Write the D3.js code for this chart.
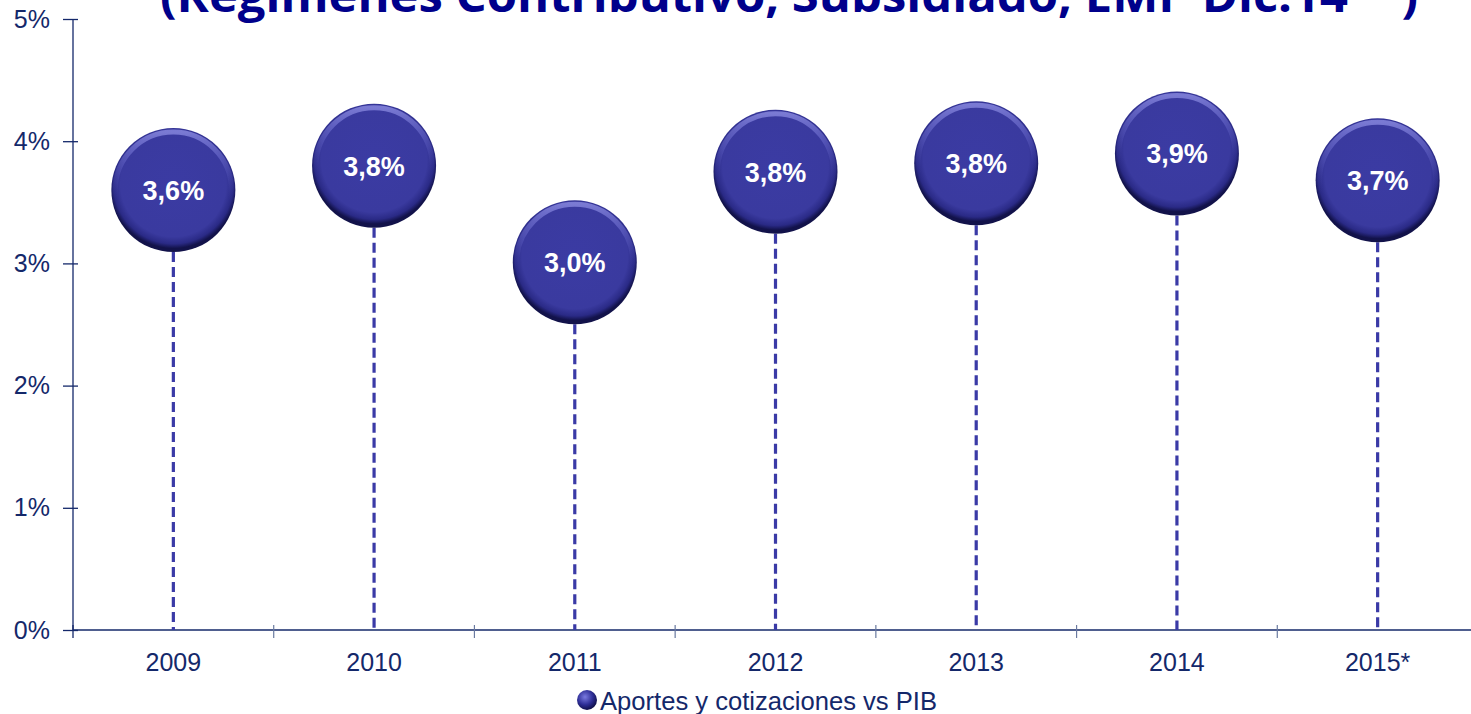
<!DOCTYPE html>
<html><head><meta charset="utf-8">
<script src="https://cdn.jsdelivr.net/npm/d3@7"></script>
<style>
html,body{margin:0;padding:0;background:#fff;}
svg{display:block;}
</style></head>
<body>
<svg id="chart" width="1471" height="714"></svg>
<script>
const categories = ["2009","2010","2011","2012","2013","2014","2015*"];
const values = [3.6, 3.8, 3.01, 3.75, 3.82, 3.9, 3.68];
const valueLabels = ["3,6%","3,8%","3,0%","3,8%","3,8%","3,9%","3,7%"];
const yTicks = [0,1,2,3,4,5];
const yTickLabels = ["0%","1%","2%","3%","4%","5%"];
const seriesName = "Aportes y cotizaciones vs PIB";
const title = "(Regímenes Contributivo, Subsidiado, EMP Dic.14**)";

const svg = d3.select("#chart");
const M = {left:73, right:1478, top:19, bottom:630};
const navy = "#14286a";

const x = d3.scaleBand().domain(categories).range([M.left, M.right]).padding(0);
const y = d3.scaleLinear().domain([0,5]).range([M.bottom, M.top]);

const defs = svg.append("defs");
const g1 = defs.append("radialGradient").attr("id","ball").attr("cx","50%").attr("cy","45%").attr("r","52%");
g1.append("stop").attr("offset","0%").attr("stop-color","#3b3ba3");
g1.append("stop").attr("offset","82%").attr("stop-color","#3a3a9f");
g1.append("stop").attr("offset","93%").attr("stop-color","#2a2a86");
g1.append("stop").attr("offset","100%").attr("stop-color","#12124a");
const g2 = defs.append("linearGradient").attr("id","rim").attr("x1","0").attr("y1","0").attr("x2","0").attr("y2","1");
g2.append("stop").attr("offset","0%").attr("stop-color","#8a8ae0").attr("stop-opacity",0.8);
g2.append("stop").attr("offset","35%").attr("stop-color","#6a6ad0").attr("stop-opacity",0.3);
g2.append("stop").attr("offset","60%").attr("stop-color","#3a3a9f").attr("stop-opacity",0);
const g3 = defs.append("radialGradient").attr("id","legball").attr("cx","40%").attr("cy","35%").attr("r","65%");
g3.append("stop").attr("offset","0%").attr("stop-color","#7a7ae0");
g3.append("stop").attr("offset","60%").attr("stop-color","#2e2e96");
g3.append("stop").attr("offset","100%").attr("stop-color","#10104a");

// Title (cut off at top, as in the reference)
svg.append("text").attr("x", 789).attr("y", 12)
  .attr("text-anchor","middle")
  .attr("font-family","'Open Sans', 'DejaVu Sans', sans-serif")
  .attr("font-weight","bold").attr("font-size",46)
  .attr("fill","#00008b")
  .attr("textLength",1258).attr("lengthAdjust","spacingAndGlyphs")
  .text(title);

const FONT = "'Liberation Sans', Arial, sans-serif";

// Y axis
const yAxis = d3.axisLeft(y).tickValues(yTicks).tickSize(10).tickPadding(12)
  .tickFormat((d,i)=>yTickLabels[i]);
const ya = svg.append("g").attr("transform",`translate(${M.left},0)`).call(yAxis);
ya.select(".domain").attr("d", `M0,${M.top}V${M.bottom}`).attr("stroke",navy).attr("stroke-width",1.3);
ya.selectAll(".tick line").attr("x1",-10).attr("x2",5).attr("stroke",navy).attr("stroke-width",1.3);
ya.selectAll(".tick text").attr("font-family",FONT).attr("font-size",25).attr("fill",navy).attr("x",-23);

// X axis
const xAxis = d3.axisBottom(x).tickSize(0).tickPadding(23);
const xa = svg.append("g").attr("transform",`translate(0,${M.bottom})`).call(xAxis);
xa.select(".domain").attr("d", `M${M.left},0H${M.right}`).attr("stroke",navy).attr("stroke-width",1.3);
xa.selectAll(".tick text").attr("font-family",FONT).attr("font-size",25).attr("fill",navy)
  .attr("transform","scale(1.03,1)");
xa.selectAll(".tick text").attr("transform",null);
// boundary tick marks
const bounds = categories.map(c=>x(c)).concat([x(categories[categories.length-1])+x.bandwidth()]);
xa.selectAll(".bound").data(bounds.slice(1)).enter().append("line")
  .attr("x1",d=>d).attr("x2",d=>d).attr("y1",-5).attr("y2",8)
  .attr("stroke","#6a7aa0").attr("stroke-width",1.2);
xa.append("line").attr("x1",M.left).attr("x2",M.left).attr("y1",-5).attr("y2",8).attr("stroke",navy).attr("stroke-width",1.3);

const R = 62;
const cx = c => x(c) + x.bandwidth()/2;

// dashed drop lines
svg.append("g").selectAll("line").data(categories).enter().append("line")
  .attr("x1",cx).attr("x2",cx)
  .attr("y1",(c,i)=>y(values[i]) + R)
  .attr("y2",y(0))
  .attr("stroke","#3a3aa6").attr("stroke-width",3.2)
  .attr("stroke-dasharray","10,5");

// bubbles
const bg = svg.append("g").selectAll("g").data(categories).enter().append("g")
  .attr("transform",(c,i)=>`translate(${cx(c)},${y(values[i])})`);
bg.append("circle").attr("r",R).attr("fill","url(#ball)");
bg.append("circle").attr("r",R-4).attr("fill","none").attr("stroke","url(#rim)").attr("stroke-width",5);
bg.append("text").attr("y",10).attr("text-anchor","middle")
  .attr("font-family",FONT).attr("font-weight","bold")
  .attr("font-size",27).attr("fill","#fff")
  .text((c,i)=>valueLabels[i]);

// legend
const lg = svg.append("g").attr("transform","translate(587,701)");
lg.append("circle").attr("r",10).attr("cx",0).attr("cy",-1).attr("fill","url(#legball)");
lg.append("text").attr("x",13).attr("y",9)
  .attr("font-family",FONT).attr("font-size",25).attr("fill",navy)
  .attr("textLength",337).attr("lengthAdjust","spacingAndGlyphs")
  .text(seriesName);
</script>
</body></html>
